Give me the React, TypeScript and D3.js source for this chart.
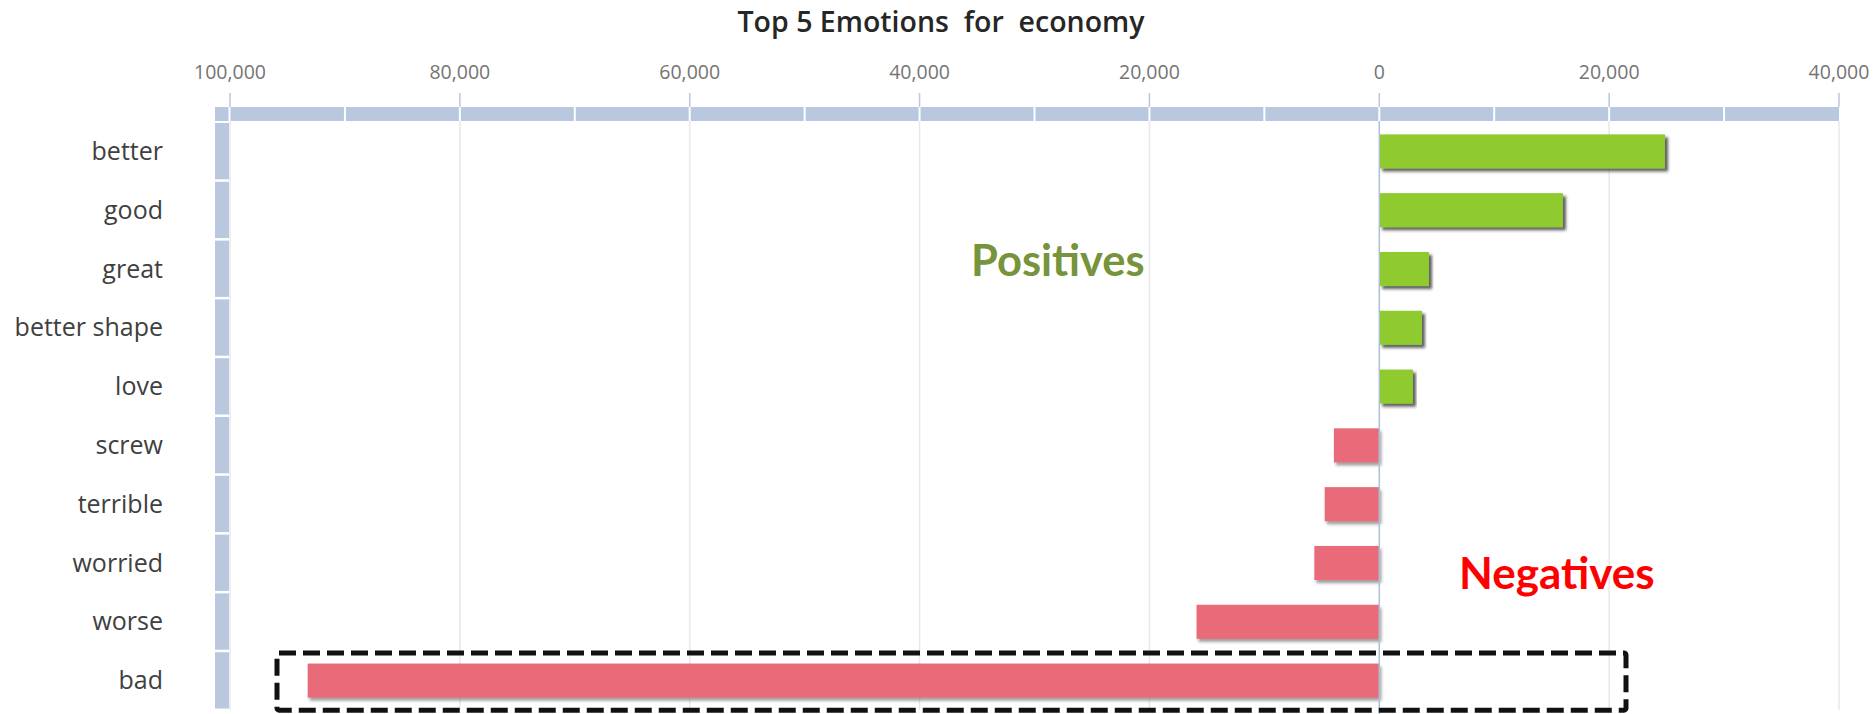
import React from 'react';
import * as d3 from 'd3';

const categories = ['better', 'good', 'great', 'better shape', 'love', 'screw', 'terrible', 'worried', 'worse', 'bad'];
const values = [24860, 15980, 4320, 3710, 2930, -3950, -4750, -5650, -15900, -93240];
const tickValues = [-100000, -80000, -60000, -40000, -20000, 0, 20000, 40000];
const minorTickValues = [-90000, -70000, -50000, -30000, -10000, 10000, 30000];
const titleText = 'Top 5 Emotions  for  economy';
const positivesText = 'Positives';
const negativesText = 'Negatives';
const highlighted = 'bad';

const W = 1874;
const H = 714;

export default function App() {
  const x = d3.scaleLinear().domain([-100000, 40000]).range([230, 1839]);
  const y = d3.scaleBand<string>().domain(categories).range([122, 710]).paddingInner(0.42).paddingOuter(0.21);
  const rowStep = y.step();
  const fmt = d3.format(',');
  const absFmt = (v: number) => fmt(Math.abs(v));
  const bandTop = 107;
  const bandBottom = 121;
  const plotTop = 122;
  const plotBottom = 710;
  const hb = y(highlighted)!;

  return (
    <div style={{ position: 'absolute', left: 0, top: 0 }}>
      <svg width={W} height={H} style={{ display: 'block', background: '#fff' }}>
        <defs>
          <filter id="shadow" x="-5%" y="-30%" width="115%" height="170%">
            <feDropShadow dx="3" dy="3" stdDeviation="1.6" floodColor="#2a2a2a" floodOpacity="0.75" />
          </filter>
          <filter id="shadowR" x="-5%" y="-30%" width="115%" height="170%">
            <feDropShadow dx="2" dy="3" stdDeviation="1.6" floodColor="#3a3a3a" floodOpacity="0.5" />
          </filter>
        </defs>

        {/* title */}
        <text x={941} y={32} textAnchor="middle" fontFamily="'Open Sans', sans-serif" fontWeight={600}
          fontSize={28.5} fill="#262626" style={{ whiteSpace: 'pre' }}>{titleText}</text>

        {/* tick labels */}
        {tickValues.map((t) => (
          <text key={'tl' + t} x={x(t)} y={79} textAnchor="middle" fontFamily="'Open Sans', sans-serif"
            fontSize={19.5} fill="#747474">{absFmt(t)}</text>
        ))}

        {/* gridlines */}
        {tickValues.filter((t) => t !== 0).map((t) => (
          <line key={'g' + t} x1={x(t)} x2={x(t)} y1={bandBottom} y2={plotBottom} stroke="#e8e8e8" strokeWidth={1.5} />
        ))}

        {/* top axis band */}
        <rect x={x(-100000)} y={bandTop} width={x(40000) - x(-100000)} height={bandBottom - bandTop} fill="#b9c8df" />
        <rect x={215} y={bandTop} width={x(-100000) - 215} height={bandBottom - bandTop} fill="#b9c8df" />
        {[...tickValues, ...minorTickValues].filter((t) => t > -100000 && t < 40000).map((t) => (
          <line key={'sep' + t} x1={x(t)} x2={x(t)} y1={bandTop} y2={bandBottom} stroke="#ffffff" strokeWidth={2} />
        ))}
        <line x1={x(-100000) - 0.5} x2={x(-100000) - 0.5} y1={bandTop} y2={bandBottom} stroke="#ffffff" strokeWidth={2} />
        {tickValues.map((t) => (
          <line key={'tm' + t} x1={x(t)} x2={x(t)} y1={93} y2={bandTop} stroke="#b9c8df" strokeWidth={1.5} />
        ))}

        {/* left category band */}
        {categories.map((c, i) => (
          <rect key={'lb' + c} x={215} y={plotTop + i * rowStep + 1} width={14} height={rowStep - 2.5} fill="#b9c8df" />
        ))}

        {/* category labels */}
        {categories.map((c) => (
          <text key={'cl' + c} x={163} y={y(c)! + y.bandwidth() / 2 + 8.5} textAnchor="end"
            fontFamily="'Open Sans', sans-serif" fontSize={25} fill="#404040">{c}</text>
        ))}

        {/* bars */}
        {categories.map((c, i) => {
          const v = values[i];
          const x0 = x(Math.min(0, v));
          const x1 = x(Math.max(0, v));
          return (
            <rect key={'b' + c} x={x0} y={y(c)!} width={x1 - x0} height={y.bandwidth()}
              fill={v >= 0 ? '#8fcb2f' : '#e96b78'} filter={v >= 0 ? 'url(#shadow)' : 'url(#shadowR)'} />
          );
        })}

        {/* zero line */}
        <line x1={x(0)} x2={x(0)} y1={bandBottom} y2={H} stroke="#aebfd8" strokeWidth={1.5} />

        {/* annotations */}
        <text x={971} y={276} fontFamily="Lato, sans-serif" fontWeight={700} fontSize={43.5} fill="#77933c">{positivesText}</text>
        <text x={1459} y={589} fontFamily="Lato, sans-serif" fontWeight={700} fontSize={44} fill="#ff0000">{negativesText}</text>

        {/* highlight box */}
        <rect x={277} y={hb - 10.5} width={1626 - 277} height={y.bandwidth() + 23} rx={2}
          fill="none" stroke="#111" strokeWidth={5} strokeDasharray="17 7" />
      </svg>
    </div>
  );
}
